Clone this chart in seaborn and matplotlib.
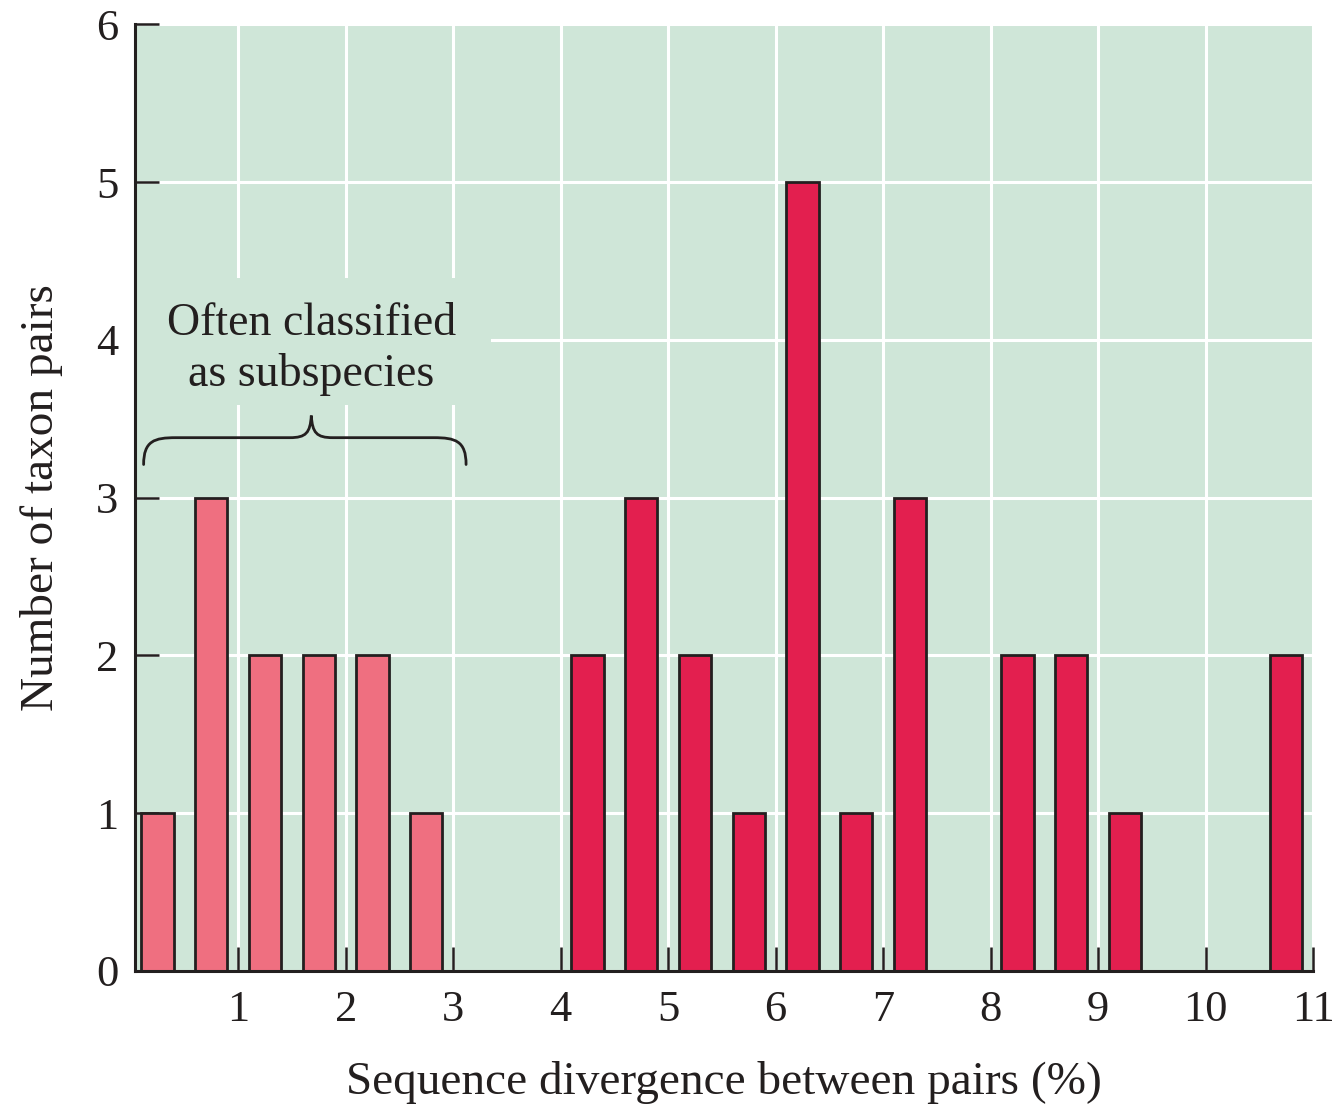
import numpy as np
import pandas as pd
import matplotlib
matplotlib.use("Agg")
import matplotlib.pyplot as plt
from matplotlib.patches import Rectangle, PathPatch
from matplotlib.path import Path
import seaborn as sns

# Divergence bins (% sequence divergence), half-percent wide
bin_edges = [0.0, 0.5, 1.0, 1.5, 2.0, 2.5, 3.0, 3.5, 4.0, 4.5, 5.0, 5.5,
             6.0, 6.5, 7.0, 7.5, 8.0, 8.5, 9.0, 9.5, 10.0, 10.5, 11.0]
bin_centers = [0.25, 0.75, 1.25, 1.75, 2.25, 2.75, 3.25, 3.75,
               4.25, 4.75, 5.25, 5.75, 6.25, 6.75, 7.25, 7.75,
               8.25, 8.75, 9.25, 9.75, 10.25, 10.75]
pair_counts = [1, 3, 2, 2, 2, 1, 0, 0,
               2, 3, 2, 1, 5, 1, 3, 0,
               2, 2, 1, 0, 0, 2]
group = ["subspecies"] * 8 + ["species"] * 14

x_ticks = [1, 2, 3, 4, 5, 6, 7, 8, 9, 10, 11]
y_ticks = [0, 1, 2, 3, 4, 5, 6]
x_label = "Sequence divergence between pairs (%)"
y_label = "Number of taxon pairs"
note_text = "Often classified\nas subspecies"

df = pd.DataFrame({"divergence": bin_centers, "pairs": pair_counts, "group": group})

BG = "#cfe6d8"
INK = "#231f1f"
sns.set_style("whitegrid", {"axes.facecolor": BG, "grid.color": "white",
                            "axes.edgecolor": INK})
plt.rcParams["font.family"] = ["Liberation Serif", "DejaVu Serif"]

fig = plt.figure(figsize=(13.33, 11.04), dpi=100)
ax = fig.add_axes([0.1013, 0.1205, 0.8837, 0.8575])

colors = {"subspecies": "#ef6f80", "species": "#e31f4f"}
for g in ["subspecies", "species"]:
    sub = df[df["group"] == g]
    sns.histplot(data=sub, x="divergence", weights="pairs", bins=bin_edges,
                 shrink=0.6, color=colors[g], alpha=1, edgecolor=INK,
                 linewidth=2.0, ax=ax, zorder=2)

ax.set_xlim(0.04, 11.0)
ax.set_ylim(0, 6)
ax.set_xticks(x_ticks)
ax.set_yticks(y_ticks)
ax.grid(True, color="white", linewidth=2.2)
ax.set_axisbelow(True)

for side in ["top", "right"]:
    ax.spines[side].set_visible(False)
for side in ["left", "bottom"]:
    ax.spines[side].set_linewidth(2.2)
    ax.spines[side].set_color(INK)
    ax.spines[side].set_zorder(3)

ax.tick_params(axis="both", direction="in", length=17, width=1.8, color=INK,
               labelsize=32, labelcolor=INK, bottom=True, left=True)
ax.tick_params(axis="x", pad=14)
ax.tick_params(axis="y", pad=12)
for t in ax.xaxis.get_major_ticks() + ax.yaxis.get_major_ticks():
    t.tick1line.set_zorder(3)

ax.set_xlabel(x_label, fontsize=34, color=INK, labelpad=22)
ax.set_ylabel(y_label, fontsize=34, color=INK, labelpad=24)

# Background patch behind the note so the grid breaks around it
ax.add_patch(Rectangle((0.04, 3.59), 3.31, 0.80, facecolor=BG,
                       edgecolor="none", zorder=1))
ax.text(1.68, 3.94, note_text, ha="center", va="center", fontsize=33,
        color=INK, linespacing=1.25, zorder=4)

# Curly brace spanning the low-divergence bins
xl, xr, xm = 0.12, 3.12, 1.68
yb, yh, yt = 3.21, 3.38, 3.52
verts = [(xl, yb),
         (xl, yh - 0.02), (xl + 0.1, yh), (xl + 0.3, yh),
         (xm - 0.2, yh),
         (xm - 0.05, yh), (xm - 0.01, yh + 0.03), (xm, yt),
         (xm + 0.01, yh + 0.03), (xm + 0.05, yh), (xm + 0.2, yh),
         (xr - 0.3, yh),
         (xr - 0.1, yh), (xr, yh - 0.02), (xr, yb)]
codes = [Path.MOVETO,
         Path.CURVE4, Path.CURVE4, Path.CURVE4,
         Path.LINETO,
         Path.CURVE4, Path.CURVE4, Path.CURVE4,
         Path.CURVE4, Path.CURVE4, Path.CURVE4,
         Path.LINETO,
         Path.CURVE4, Path.CURVE4, Path.CURVE4]
ax.add_patch(PathPatch(Path(verts, codes), facecolor="none", edgecolor=INK,
                       linewidth=2.0, zorder=4, capstyle="round"))

fig.savefig("out.png", dpi=100, facecolor="white")
